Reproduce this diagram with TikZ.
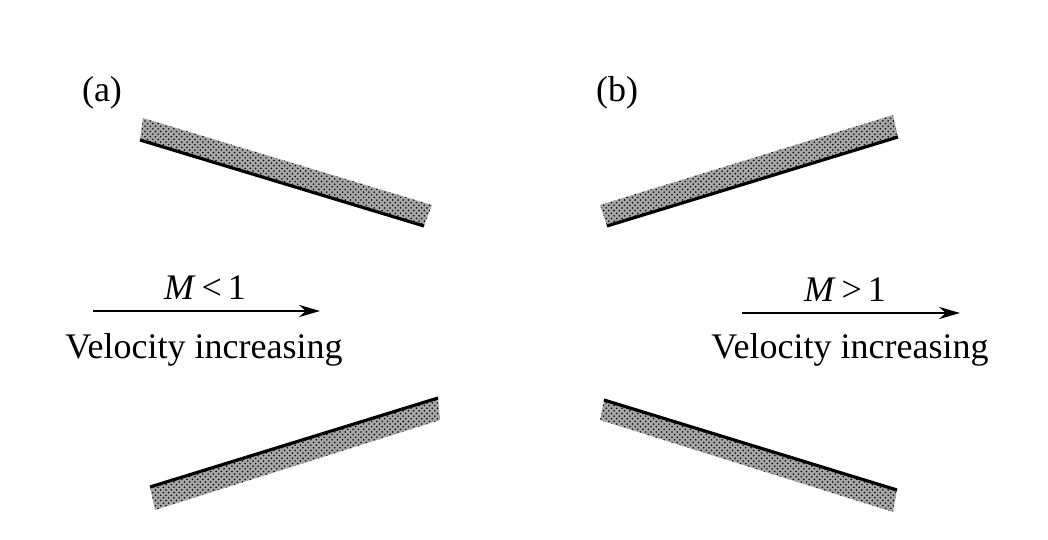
\documentclass[tikz,border=0pt]{standalone}
\usepackage{fontspec}
\setmainfont{Liberation Serif}
\usetikzlibrary{patterns,arrows.meta}
\begin{document}
\begin{tikzpicture}[x=0.02cm,y=-0.02cm,
  wall/.style={fill=black!35, postaction={pattern=crosshatch dots, pattern color=black}},
  edge/.style={line width=1.8pt},
  flow/.style={line width=1pt,-{Stealth[length=12pt,width=7pt]}},
  lab/.style={font=\fontsize{20.5}{24}\selectfont}]
\useasboundingbox (0,0) rectangle (1048,540);
% (a) top
\fill[wall] (140,140) -- (143,118) -- (432,205) -- (424,226) -- cycle;
\draw[edge] (140,140) -- (424,226);
% (a) bottom
\fill[wall] (150,487) -- (155,510) -- (440,420) -- (438,398) -- cycle;
\draw[edge] (150,487) -- (438,398);
% (b) top
\fill[wall] (607,226) -- (600,205) -- (893,115) -- (898,137) -- cycle;
\draw[edge] (607,226) -- (898,137);
% (b) bottom
\fill[wall] (604,400) -- (600,420) -- (893,512) -- (897,490) -- cycle;
\draw[edge] (604,400) -- (897,490);
% labels
\node[lab] (la) at (102,93) {(a)};
\node[lab] (lb) at (617,93) {(b)};
\coordinate (a1) at (93,311); \coordinate (a2) at (320,311);
\draw[flow] (a1) -- (a2);
\node[lab] (ma) at (205,288) {\textit{M}\,<\,1};
\node[lab] (va) at (204,350) {Velocity increasing};
\coordinate (b1) at (742,313); \coordinate (b2) at (960,313);
\draw[flow] (b1) -- (b2);
\node[lab] (mb) at (845,290) {\textit{M}\,>\,1};
\node[lab] (vb) at (850,350) {Velocity increasing};
\end{tikzpicture}
\end{document}
